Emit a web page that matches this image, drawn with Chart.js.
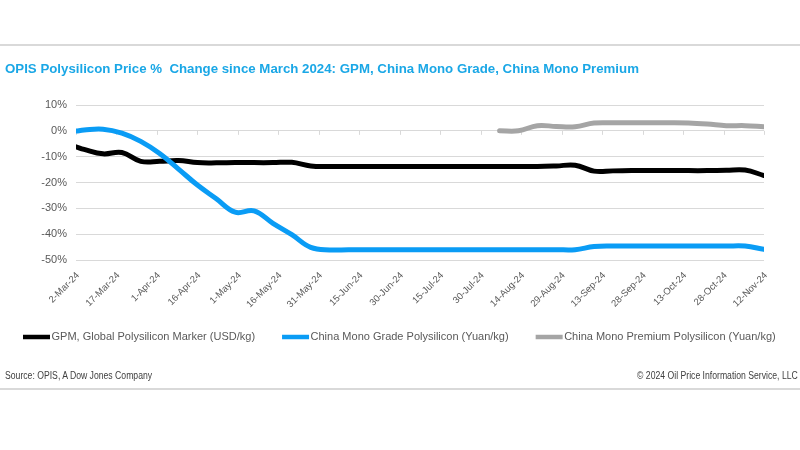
<!DOCTYPE html>
<html><head><meta charset="utf-8">
<script src="https://cdn.jsdelivr.net/npm/chart.js@4.4.1/dist/chart.umd.min.js"></script>
<style>
html,body{margin:0;padding:0;background:#fff;}
#wrap{position:relative;width:800px;height:450px;overflow:hidden;background:#fff;}
canvas{position:absolute;left:0;top:0;}
.rule{position:absolute;left:0;width:800px;height:2px;background:#D9D9D9;}
.src{position:absolute;top:370px;font-family:'Liberation Sans',Arial,sans-serif;font-size:10px;line-height:12px;color:#404040;white-space:nowrap;transform:scaleX(0.865);}
</style></head>
<body><div id="wrap">
<canvas id="c" width="800" height="450"></canvas>
<div class="rule" style="top:44px"></div>
<div class="rule" style="top:388px"></div>
<div class="src" style="left:5px;transform-origin:left center;">Source: OPIS, A Dow Jones Company</div>
<div class="src" style="right:2px;transform-origin:right center;">© 2024 Oil Price Information Service, LLC</div>
</div>
<script>
const titleText = 'OPIS Polysilicon Price %  Change since March 2024: GPM, China Mono Grade, China Mono Premium';
const seriesNames = ['GPM, Global Polysilicon Marker (USD/kg)', 'China Mono Grade Polysilicon (Yuan/kg)', 'China Mono Premium Polysilicon (Yuan/kg)'];
const seriesColors = ['#000000', '#0A9CF5', '#A5A5A5'];
const dates = ['2024-03-02','2024-03-05','2024-03-12','2024-03-19','2024-03-26','2024-04-02','2024-04-09','2024-04-16','2024-04-23','2024-04-30',
  '2024-05-07','2024-05-14','2024-05-21','2024-05-28','2024-06-04','2024-06-11','2024-06-18','2024-06-25','2024-07-02','2024-07-09',
  '2024-07-16','2024-07-23','2024-07-30','2024-08-06','2024-08-13','2024-08-20','2024-08-27','2024-09-03','2024-09-10','2024-09-17',
  '2024-09-24','2024-10-01','2024-10-08','2024-10-15','2024-10-22','2024-10-29','2024-11-05','2024-11-12'];
const gpm = [-6.2,-7.2,-8.9,-8.4,-11.8,-11.8,-11.5,-12.3,-12.4,-12.3,
  -12.3,-12.3,-12.2,-13.6,-13.8,-13.8,-13.8,-13.8,-13.8,-13.8,
  -13.8,-13.8,-13.8,-13.8,-13.8,-13.8,-13.6,-13.3,-15.6,-15.5,
  -15.4,-15.4,-15.4,-15.4,-15.4,-15.3,-15.2,-17.3];
const monoGrade = [-0.1,0.3,0.6,-0.9,-4.1,-8.8,-14.8,-21.0,-26.3,-31.5,
  -31.0,-35.8,-40.2,-45.1,-46.1,-46.0,-46.0,-46.0,-46.0,-46.0,
  -46.0,-46.0,-46.0,-46.0,-46.0,-46.0,-46.0,-46.0,-44.8,-44.6,
  -44.6,-44.6,-44.6,-44.6,-44.6,-44.6,-44.6,-45.9];
const monoPremium = [null,null,null,null,null,null,null,null,null,null,
  null,null,null,null,null,null,null,null,null,null,
  null,null,null,0.0,0.0,2.0,1.7,1.6,3.0,3.1,
  3.1,3.1,3.1,3.0,2.6,2.0,2.0,1.6];
const yTickValues = [-50,-40,-30,-20,-10,0,10];
const monthNames = ['Jan','Feb','Mar','Apr','May','Jun','Jul','Aug','Sep','Oct','Nov','Dec'];

const DAY = 86400000;
const t0 = Date.parse(dates[0] + 'T00:00:00Z');
const dayOf = d => Math.round((Date.parse(d + 'T00:00:00Z') - t0) / DAY);
const lastDay = dayOf(dates[dates.length - 1]);
const fmtDay = v => {
  const d = new Date(t0 + v * DAY);
  return d.getUTCDate() + '-' + monthNames[d.getUTCMonth()] + '-' + String(d.getUTCFullYear()).slice(2);
};
const toPts = arr => dates.map((d, i) => ({x: dayOf(d), y: arr[i]}));

const GREY_TXT = '#595959';
const FONT = "'Liberation Sans', Arial, sans-serif";

// fit the title to the reference width (condensed face not installed)
const mctx = document.createElement('canvas').getContext('2d');
mctx.font = 'bold 15px ' + FONT;
const titleSize = Math.min(15, 15 * 635 / mctx.measureText(titleText).width);
const TITLE_TOP = 69 - titleSize * 0.6;
const PLOT_TOP = 105, PLOT_BOTTOM = 260, XAXIS_H = 47.5;

const zeroTicks = {
  id: 'zeroTicks',
  beforeDatasetsDraw(chart) {
    const xs = chart.scales.x, ys = chart.scales.y, ctx = chart.ctx;
    const y0 = ys.getPixelForValue(0);
    ctx.save();
    ctx.strokeStyle = '#D9D9D9';
    ctx.lineWidth = 1;
    ctx.beginPath();
    xs.ticks.forEach(t => {
      const x = Math.round(xs.getPixelForValue(t.value)) + 0.5;
      ctx.moveTo(x, y0);
      ctx.lineTo(x, y0 + 4);
    });
    ctx.stroke();
    ctx.restore();
  }
};

// legend drawn in the Excel style: long line swatch directly followed by its text
const excelLegend = {
  id: 'excelLegend',
  afterDraw(chart) {
    const ctx = chart.ctx;
    const y = 337;
    let x = 23;
    ctx.save();
    ctx.font = '11px ' + FONT;
    ctx.textBaseline = 'middle';
    ctx.textAlign = 'left';
    chart.data.datasets.forEach(ds => {
      ctx.strokeStyle = ds.borderColor;
      ctx.lineWidth = 4.5;
      ctx.lineCap = 'butt';
      ctx.beginPath();
      ctx.moveTo(x, y);
      ctx.lineTo(x + 27, y);
      ctx.stroke();
      ctx.fillStyle = GREY_TXT;
      ctx.fillText(ds.label, x + 28.5, y);
      x += 28.5 + ctx.measureText(ds.label).width + 27;
    });
    ctx.restore();
  }
};

new Chart(document.getElementById('c'), {
  type: 'line',
  data: {
    datasets: [
      {label: seriesNames[0], data: toPts(gpm), borderColor: seriesColors[0], backgroundColor: seriesColors[0], borderWidth: 5, order: 1},
      {label: seriesNames[1], data: toPts(monoGrade), borderColor: seriesColors[1], backgroundColor: seriesColors[1], borderWidth: 5, order: 0},
      {label: seriesNames[2], data: toPts(monoPremium), borderColor: seriesColors[2], backgroundColor: seriesColors[2], borderWidth: 5, order: 2}
    ]
  },
  options: {
    responsive: false,
    animation: false,
    devicePixelRatio: 1,
    layout: {padding: {top: TITLE_TOP, left: 5, right: 0, bottom: 450 - PLOT_BOTTOM - XAXIS_H}},
    elements: {point: {radius: 0}, line: {tension: 0.4, borderCapStyle: 'round', borderJoinStyle: 'round'}},
    plugins: {
      title: {
        display: true, text: titleText, align: 'start', color: '#1AA7E6',
        font: {family: FONT, size: titleSize, weight: 'bold', lineHeight: 1.2},
        padding: {top: 0, bottom: PLOT_TOP - TITLE_TOP - titleSize * 1.2}
      },
      legend: {display: false},
      tooltip: {enabled: false}
    },
    scales: {
      x: {
        type: 'linear', min: 0, max: lastDay,
        grid: {display: false}, border: {display: false},
        ticks: {stepSize: 15, autoSkip: false, minRotation: 45, maxRotation: 45, padding: 2, labelOffset: 2,
          color: GREY_TXT, font: {family: FONT, size: 9.5}, callback: v => fmtDay(v)},
        afterFit: s => { s.height = XAXIS_H; }
      },
      y: {
        min: yTickValues[0], max: yTickValues[yTickValues.length - 1],
        afterBuildTicks: s => { s.ticks = yTickValues.map(v => ({value: v})); },
        ticks: {padding: 9, color: GREY_TXT, font: {family: FONT, size: 11}, callback: v => v + '%'},
        grid: {color: '#D9D9D9', lineWidth: 1, drawTicks: false},
        border: {display: false},
        afterFit: s => { s.width = 71; }
      },
      yR: {
        position: 'right', display: true,
        grid: {display: false}, border: {display: false}, ticks: {display: false},
        afterFit: s => { s.width = 36; }
      }
    }
  },
  plugins: [zeroTicks, excelLegend]
});
</script>
</body></html>
